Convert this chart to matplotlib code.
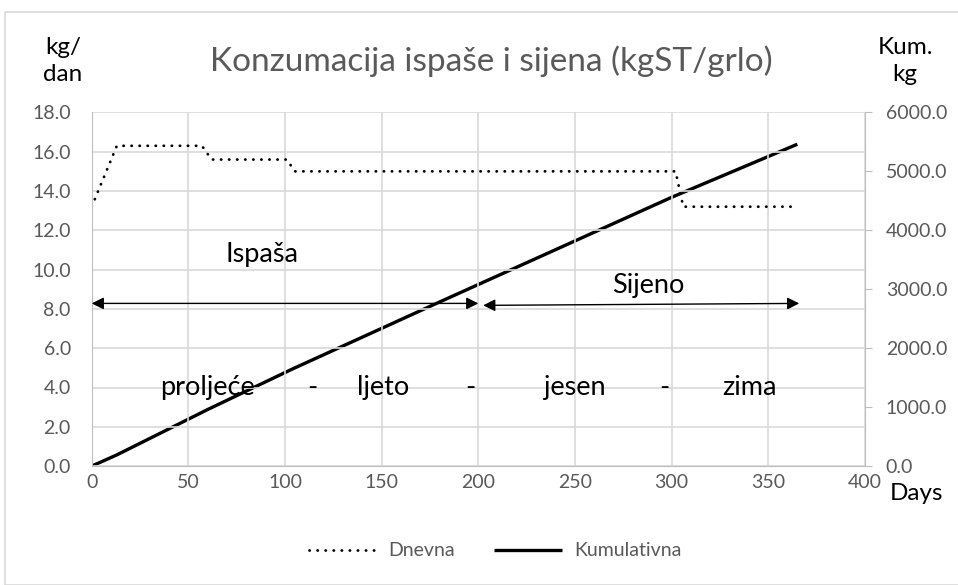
import matplotlib
matplotlib.use("Agg")
import matplotlib.pyplot as plt
from matplotlib.patches import Rectangle
from matplotlib.ticker import FormatStrFormatter

plt.rcParams['font.family'] = ['Lato', 'DejaVu Sans']

# Data
daily_days = [0, 13, 57, 62, 101, 105, 302, 306, 365]
daily_vals = [13.2, 16.3, 16.3, 15.6, 15.6, 15.0, 15.0, 13.2, 13.2]
cum_days = [0, 13, 60, 104, 179, 300, 365]
cum_vals = [0, 190, 960, 1650, 2770, 4560, 5460]

season_labels = ["proljeće", "-", "ljeto", "-", "jesen", "-", "zima"]
season_days = [60, 114, 151, 196, 250, 296, 340]

gray = "#595959"
grid = "#d9d9d9"

fig = plt.figure(figsize=(9.58, 5.85), dpi=100)
fig.patches.append(Rectangle((5/958, 0), 1.1, 1 - 12/585, transform=fig.transFigure,
                             fill=False, edgecolor="#d9d9d9", lw=1.2))

ax = fig.add_axes([91.7/958, 1 - 466.1/585, (865 - 91.7)/958, (466.1 - 112.4)/585])
ax2 = ax.twinx()

ax.set_xlim(0, 400)
ax.set_ylim(0, 18)
ax2.set_ylim(0, 6000)
ax.set_xticks(range(0, 401, 50))
ax.set_yticks(range(0, 19, 2))
ax2.set_yticks(range(0, 6001, 1000))
ax.yaxis.set_major_formatter(FormatStrFormatter('%.1f'))
ax2.yaxis.set_major_formatter(FormatStrFormatter('%.1f'))

ax.grid(True, color=grid, lw=1.2)
ax.set_axisbelow(True)
for a in (ax, ax2):
    for s in a.spines.values():
        s.set_visible(False)
ax.spines['bottom'].set_visible(True)
ax.spines['bottom'].set_color("#bfbfbf")
ax.spines['left'].set_visible(True)
ax.spines['left'].set_color("#bfbfbf")
ax2.spines['right'].set_visible(True)
ax2.spines['right'].set_color("#bfbfbf")

ax.tick_params(axis='y', colors=gray, labelsize=14, length=0, pad=15)
ax.tick_params(axis='x', colors=gray, labelsize=14, length=0, pad=6)
ax2.tick_params(axis='y', colors=gray, labelsize=14, length=5, color="#bfbfbf", pad=10)

ln1, = ax.plot(daily_days, daily_vals, color="black", lw=2.0,
               linestyle=(0, (0.1, 2.8)), dash_capstyle='round', label="Dnevna")
ln2, = ax2.plot(cum_days, cum_vals, color="black", lw=2.4, label="Kumulativna",
                solid_capstyle='butt')

ax2.set_zorder(1)
ax.set_zorder(2)
ax.patch.set_visible(False)

ax.annotate("", xy=(0, 8.28), xytext=(200, 8.28),
            arrowprops=dict(arrowstyle="<|-|>", color="black", lw=1.0,
                            mutation_scale=18, shrinkA=0, shrinkB=0))
ax.annotate("", xy=(202.5, 8.18), xytext=(366, 8.28),
            arrowprops=dict(arrowstyle="<|-|>", color="black", lw=1.0,
                            mutation_scale=18, shrinkA=0, shrinkB=0))
ax.text(88, 10.75, "Ispaša", fontsize=19.5, color="black", ha="center", va="center")
ax.text(288, 9.2, "Sijeno", fontsize=19.5, color="black", ha="center", va="center")
for lab, d in zip(season_labels, season_days):
    ax.text(d, 4.0, lab, fontsize=19.5, color="black", ha="center", va="center")

fig.text(491/958, 1 - 61/585, "Konzumacija ispaše i sijena (kgST/grlo)",
         fontsize=24, color=gray, ha="center", va="center")
fig.text(63/958, 1 - 61/585, "kg/\ndan", fontsize=17.5, color="black",
         ha="center", va="center", linespacing=1.35)
fig.text(905/958, 1 - 61/585, "Kum.\nkg", fontsize=17.5, color="black",
         ha="center", va="center", linespacing=1.35)
fig.text(917/958, 1 - 493/585, "Days", fontsize=17.5, color="black",
         ha="center", va="center")

fig.legend(handles=[ln1, ln2], loc="center", bbox_to_anchor=(495/958, 1 - 551/585),
           ncol=2, frameon=False, fontsize=14, labelcolor=gray,
           handlelength=3.5, columnspacing=2.0, handletextpad=0.6)

fig.savefig("out.png", dpi=100)
